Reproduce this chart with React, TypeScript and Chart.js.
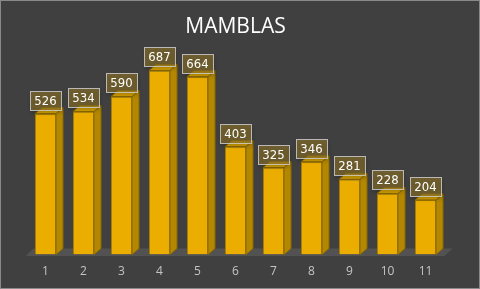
import React, { useEffect, useRef } from "react";
import { Chart, registerables } from "chart.js";

Chart.register(...registerables);

const categories = ["1", "2", "3", "4", "5", "6", "7", "8", "9", "10", "11"];
const values = [526, 534, 590, 687, 664, 403, 325, 346, 281, 228, 204];
const yMin = 0;
const yMax = 800;
const titleText = "MAMBLAS";

const DX = 7;
const DY = 6;

const threeD = {
  id: "threeD",
  beforeDraw(chart: any) {
    const { ctx, width, height } = chart;
    ctx.save();
    ctx.fillStyle = "#404040";
    ctx.fillRect(0, 0, width, height);
    ctx.strokeStyle = "#8a8a8a";
    ctx.lineWidth = 1;
    ctx.strokeRect(0.5, 0.5, width - 1, height - 1);
    ctx.restore();
  },
  beforeDatasetsDraw(chart: any) {
    const { ctx, chartArea } = chart;
    const base = chart.scales.y.getPixelForValue(0);
    ctx.save();
    ctx.fillStyle = "#525252";
    ctx.beginPath();
    ctx.moveTo(chartArea.left - 1, base + 1.5);
    ctx.lineTo(chartArea.right, base + 1.5);
    ctx.lineTo(chartArea.right + DX + 1, base - DY);
    ctx.lineTo(chartArea.left + DX, base - DY);
    ctx.closePath();
    ctx.fill();
    ctx.restore();
  },
  afterDatasetsDraw(chart: any) {
    const { ctx } = chart;
    const meta = chart.getDatasetMeta(0);
    ctx.save();
    meta.data.forEach((bar: any) => {
      const p = bar.getProps(["x", "y", "base", "width"], true);
      const l = p.x - p.width / 2;
      const r = p.x + p.width / 2;
      const t = p.y;
      const b = p.base;
      ctx.fillStyle = "#B38700";
      ctx.strokeStyle = "#8a6800";
      ctx.lineWidth = 1;
      ctx.beginPath();
      ctx.moveTo(r, t);
      ctx.lineTo(r + DX, t - DY);
      ctx.lineTo(r + DX, b - DY);
      ctx.lineTo(r, b);
      ctx.closePath();
      ctx.fill();
      ctx.stroke();
      ctx.fillStyle = "#D6A200";
      ctx.beginPath();
      ctx.moveTo(l, t);
      ctx.lineTo(l + DX, t - DY);
      ctx.lineTo(r + DX, t - DY);
      ctx.lineTo(r, t);
      ctx.closePath();
      ctx.fill();
      ctx.stroke();
    });
    ctx.font = '13px "Liberation Sans Narrow", "DejaVu Sans Condensed", sans-serif';
    ctx.textAlign = "center";
    ctx.textBaseline = "middle";
    meta.data.forEach((bar: any, i: number) => {
      const p = bar.getProps(["x", "y"], true);
      const txt = String(values[i]);
      const tw = ctx.measureText(txt).width;
      const w = Math.round(tw + 9);
      const h = 19;
      const bx = Math.round(p.x - w / 2) + 0.5;
      const by = Math.round(p.y - 4 - h) + 0.5;
      ctx.save();
      ctx.shadowColor = "rgba(0,0,0,0.35)";
      ctx.shadowBlur = 4;
      ctx.shadowOffsetY = 2;
      ctx.fillStyle = "rgba(140,115,40,0.62)";
      ctx.fillRect(bx, by, w, h);
      ctx.restore();
      ctx.strokeStyle = "rgba(205,205,205,0.85)";
      ctx.lineWidth = 1;
      ctx.strokeRect(bx, by, w, h);
      ctx.fillStyle = "#ffffff";
      ctx.fillText(txt, p.x, by + h / 2 + 0.5);
    });
    ctx.restore();
  },
};

export default function App() {
  const ref = useRef<HTMLCanvasElement | null>(null);
  useEffect(() => {
    document.body.style.margin = "0";
    const canvas = ref.current!;
    const chart = new Chart(canvas, {
      type: "bar",
      data: {
        labels: categories,
        datasets: [
          {
            data: values,
            backgroundColor: "#EBAE00",
            borderColor: "#A67C00",
            borderWidth: 1,
            barPercentage: 0.553,
            categoryPercentage: 1,
          },
        ],
      },
      options: {
        animation: false,
        responsive: false,
        devicePixelRatio: 1,
        layout: { padding: { left: 26.5, right: 35.5, top: 0, bottom: 0 } },
        plugins: {
          legend: { display: false },
          tooltip: { enabled: false },
          title: {
            display: true,
            text: titleText,
            color: "#ffffff",
            font: { family: '"Open Sans", sans-serif', size: 21, weight: "normal" },
            padding: { top: 14, bottom: 1 },
          },
        },
        scales: {
          x: {
            grid: { display: false, drawTicks: false },
            border: { display: false },
            ticks: {
              color: "#c4c4c4",
              font: { family: '"Open Sans", sans-serif', size: 12 },
              padding: 10,
            },
          },
          y: { display: false, min: yMin, max: yMax },
        },
      },
      plugins: [threeD],
    });
    return () => chart.destroy();
  }, []);
  return <canvas ref={ref} width={480} height={289} style={{ display: "block" }} />;
}
